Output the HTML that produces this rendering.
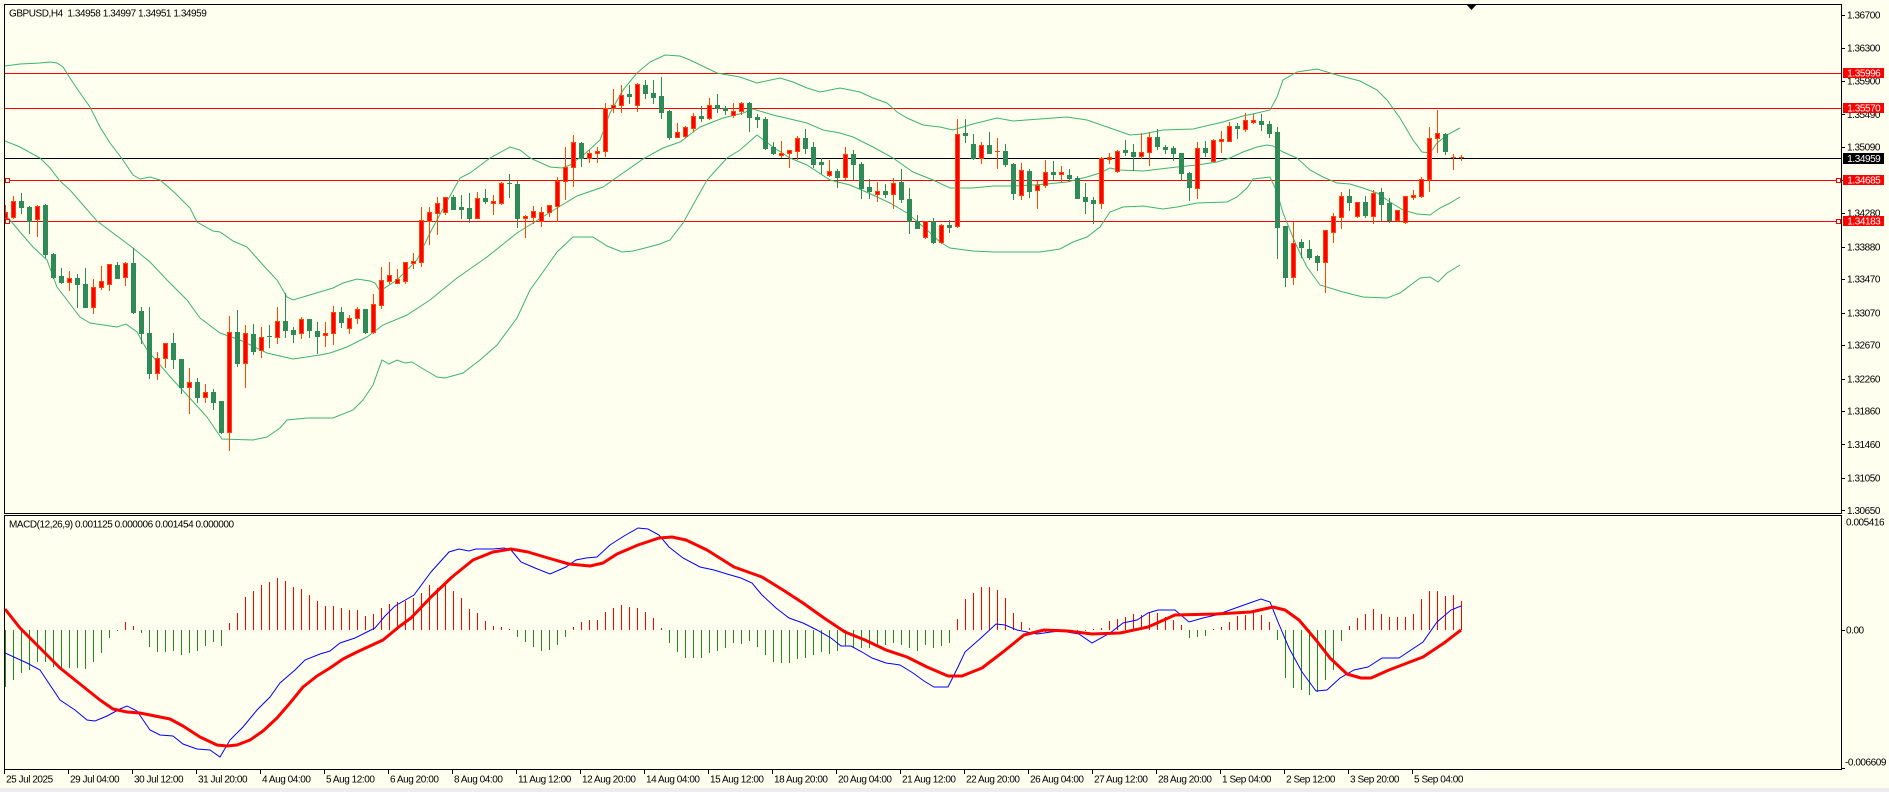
<!DOCTYPE html>
<html>
<head>
<meta charset="utf-8">
<style>
html,body{margin:0;padding:0;background:#fffff0;overflow:hidden;width:1889px;height:792px;}
svg{display:block;}
text{font-family:"Liberation Sans",Arial,sans-serif;font-size:10px;letter-spacing:-0.45px;fill:#000;white-space:pre;}
.w{fill:#fff;}
</style>
</head>
<body>
<svg width="1889" height="792" viewBox="0 0 1889 792">
<defs>
<clipPath id="cm"><rect x="5" y="5" width="1836" height="508"/></clipPath>
<clipPath id="cd"><rect x="5" y="516" width="1836" height="253"/></clipPath>
</defs>
<rect x="0" y="0" width="1889" height="792" fill="#fffff0"/>
<rect x="0" y="788" width="1889" height="4" fill="#ececec"/>

<g clip-path="url(#cm)">
<!-- horizontal levels -->
<line x1="5" y1="73.5" x2="1841" y2="73.5" stroke="#ff0000" stroke-width="1"/>
<line x1="5" y1="108.5" x2="1841" y2="108.5" stroke="#ff0000" stroke-width="1"/>
<line x1="5" y1="158.5" x2="1841" y2="158.5" stroke="#000" stroke-width="1"/>
<line x1="5" y1="180.5" x2="1841" y2="180.5" stroke="#ff0000" stroke-width="1"/>
<line x1="5" y1="221.5" x2="1841" y2="221.5" stroke="#ff0000" stroke-width="1"/>

<!-- Bollinger bands -->
<polyline fill="none" stroke="#3cb371" stroke-width="1" points="5,66 20,64 40,63 50,62 57,63 63,67 70,78 80,93 90,107 100,127 110,143 123,160 133,175 140,179 150,177 160,180 175,193 190,208 197,222 213,231 220,232 233,241 247,247 263,265 277,280 287,297 293,300 313,294 333,288 343,283 357,279 370,281 375,283 380,291 397,280 417,260 430,233 445,205 460,178 470,173 490,158 510,147 520,150 530,158 550,167 562,168 570,165 587,152 600,140 610,113 623,90 637,73 650,62 665,55 680,56 690,60 717,73 740,77 757,83 780,78 793,82 807,88 820,92 840,88 860,92 873,98 887,103 897,112 907,118 923,125 940,127 953,130 973,124 997,118 1013,121 1040,119 1067,117 1087,120 1110,128 1130,135 1143,134 1163,130 1193,129 1223,122 1243,116 1257,113 1270,110 1277,97 1283,80 1297,72 1317,69 1337,75 1360,81 1377,90 1387,100 1400,118 1413,140 1422,152 1430,153 1437,143 1447,135 1460,128"/>
<polyline fill="none" stroke="#3cb371" stroke-width="1" points="5,141 20,147 40,158 50,168 60,181 70,190 97,221 133,248 150,262 167,280 187,300 200,318 220,333 240,340 267,353 293,359 320,355 330,353 347,347 367,337 383,325 407,315 430,300 457,278 487,257 517,233 557,208 577,196 603,187 623,173 643,159 663,148 680,142 700,127 723,118 743,113 753,109 773,115 790,119 807,123 823,130 840,133 853,137 873,147 893,158 913,172 933,180 950,188 973,188 993,186 1013,186 1033,185 1047,184 1067,182 1087,177 1100,173 1110,168 1120,170 1143,171 1160,169 1177,167 1197,165 1217,162 1230,158 1243,152 1257,147 1267,145 1273,146 1283,152 1297,158 1310,170 1323,177 1337,183 1350,184 1363,188 1377,193 1390,202 1403,210 1417,214 1430,215 1440,208 1450,203 1460,197"/>
<polyline fill="none" stroke="#3cb371" stroke-width="1" points="5,214 20,232 33,247 47,260 57,287 67,300 80,317 90,323 117,327 126,324 137,332 147,350 173,380 187,395 207,417 222,439 253,440 267,437 280,428 287,420 307,418 333,418 353,410 363,400 373,385 382,360 389,364 397,360 405,363 412,362 420,367 437,377 445,378 463,373 480,360 497,345 517,318 530,290 543,272 557,252 573,237 593,237 607,246 622,252 633,251 645,248 660,244 670,240 683,223 707,180 727,158 740,150 757,135 773,147 790,158 807,165 830,180 850,185 873,195 890,203 907,213 927,230 940,242 950,248 973,251 993,252 1040,252 1060,249 1073,242 1087,237 1100,227 1110,212 1123,207 1143,206 1163,209 1177,207 1197,203 1227,202 1237,197 1247,188 1253,179 1270,177 1277,192 1283,213 1297,247 1307,267 1320,285 1343,292 1363,297 1387,298 1400,293 1420,278 1430,277 1438,282 1447,273 1460,265"/>

<!-- candles -->
<path id="wg" fill="none" stroke="#2e8b57" stroke-width="1" d=""/>
<path id="wr" fill="none" stroke="#ff4500" stroke-width="1" d=""/>
<path id="bg" fill="#2e8b57" stroke="#2e8b57" stroke-width="1" d=""/>
<path id="br" fill="#ff0000" stroke="#ff4500" stroke-width="1" d=""/>
<path id="dg" fill="none" stroke="#2e8b57" stroke-width="1" d=""/>
<path id="dr" fill="none" stroke="#ff4500" stroke-width="1" d=""/>

<!-- line end markers -->
<rect x="5.5" y="178.5" width="4" height="4" fill="#fffff0" stroke="#ff0000" stroke-width="1"/>
<rect x="5.5" y="219.5" width="4" height="4" fill="#fffff0" stroke="#ff0000" stroke-width="1"/>
<rect x="1836.5" y="178.5" width="4" height="4" fill="#fffff0" stroke="#ff0000" stroke-width="1"/>
<rect x="1836.5" y="219.5" width="4" height="4" fill="#fffff0" stroke="#ff0000" stroke-width="1"/>
</g>

<g clip-path="url(#cd)">
<path id="hr" fill="none" stroke="#ff0000" stroke-width="1" d=""/>
<path id="hg" fill="none" stroke="#1e8c1e" stroke-width="1" d=""/>
<polyline fill="none" stroke="#0000ff" stroke-width="1" points="5,653 27,663 40,670 60,700 75,710 87,720 95,721 107,716 120,709 127,706 137,711 150,730 160,735 173,736 183,744 197,749 210,750 220,757 230,740 243,727 257,710 270,697 280,683 295,670 305,660 320,654 330,651 340,643 355,638 365,633 375,628 385,616 395,606 414,595 431,572 449,552 459,549 469,551 476,549 493,549 504,548 511,550 521,562 535,568 550,574 566,567 576,560 586,558 597,557 610,545 624,536 638,528 648,529 659,535 669,547 683,558 700,567 714,570 727,574 741,578 752,583 762,595 776,608 789,618 803,623 817,630 831,638 841,646 851,646 862,652 872,658 886,663 900,665 913,673 924,681 934,687 948,687 958,667 965,652 982,637 996,624 1005,625 1017,630 1037,634 1051,632 1061,631 1079,634 1092,643 1110,633 1123,623 1137,620 1148,613 1158,610 1175,610 1189,622 1203,618 1216,615 1244,605 1261,599 1270,602 1278,622 1289,648 1302,672 1316,691 1327,690 1340,678 1354,670 1368,667 1382,658 1399,658 1423,642 1437,622 1451,610 1461,606"/>
<polyline fill="none" stroke="#ff0000" stroke-width="3" stroke-linejoin="round" points="5,609 20,628 40,648 60,668 80,684 100,700 113,709 127,712 140,713 160,717 170,719 183,726 200,737 217,745 227,746 237,745 250,740 263,731 277,718 290,703 303,687 317,676 330,668 343,659 357,652 370,646 383,640 400,626 411,618 431,597 452,577 473,560 493,552 511,549 528,552 548,558 569,564 590,566 603,563 617,554 638,545 659,538 672,537 686,540 707,550 734,567 762,577 783,590 803,603 824,618 845,632 865,640 886,650 907,657 927,667 948,676 962,676 982,668 1003,652 1024,635 1044,630 1068,631 1092,634 1120,633 1148,627 1175,615 1216,614 1251,612 1273,607 1285,610 1299,620 1316,640 1330,658 1347,674 1361,678 1371,678 1389,670 1423,657 1444,643 1461,630"/>
</g>

<!-- frames -->
<g fill="none" stroke="#000" stroke-width="1">
<path d="M4.5,4.5H1841.5V513.5H4.5Z"/>
<path d="M4.5,515.5H1841.5V769.5H4.5Z"/>
</g>
<polygon points="1466,4 1477,4 1471.5,10" fill="#000"/>

<!-- price axis ticks -->
<path fill="none" stroke="#000" stroke-width="1" d="M1842,15.5h3M1842,48.5h3M1842,81.5h3M1842,114.5h3M1842,147.5h3M1842,180.5h3M1842,213.5h3M1842,247.5h3M1842,279.5h3M1842,313.5h3M1842,345.5h3M1842,379.5h3M1842,411.5h3M1842,444.5h3M1842,478.5h3M1842,510.5h3M1842,630.5h3M1842,768.5h3"/>
<!-- time axis ticks -->
<path fill="none" stroke="#000" stroke-width="1" d="M4.5,770v4M68.5,770v4M132.5,770v4M196.5,770v4M260.5,770v4M324.5,770v4M388.5,770v4M452.5,770v4M516.5,770v4M580.5,770v4M644.5,770v4M708.5,770v4M772.5,770v4M836.5,770v4M900.5,770v4M964.5,770v4M1028.5,770v4M1092.5,770v4M1156.5,770v4M1220.5,770v4M1284.5,770v4M1348.5,770v4M1412.5,770v4"/>

<!-- titles -->
<text x="9" y="16.5">GBPUSD,H4  1.34958 1.34997 1.34951 1.34959</text>
<text x="9" y="527.5">MACD(12,26,9) 0.001125 0.000006 0.001454 0.000000</text>

<!-- price labels -->
<text x="1847" y="18.6">1.36700</text>
<text x="1847" y="51.6">1.36300</text>
<text x="1847" y="84.6">1.35900</text>
<text x="1847" y="118">1.35490</text>
<text x="1847" y="150.6">1.35090</text>
<text x="1847" y="183.6">1.34680</text>
<text x="1847" y="216.6">1.34280</text>
<text x="1847" y="250.3">1.33880</text>
<text x="1847" y="282.6">1.33470</text>
<text x="1847" y="316.3">1.33070</text>
<text x="1847" y="348.6">1.32670</text>
<text x="1847" y="382.3">1.32260</text>
<text x="1847" y="414.6">1.31860</text>
<text x="1847" y="448">1.31460</text>
<text x="1847" y="481.3">1.31050</text>
<text x="1847" y="514">1.30650</text>

<!-- level label boxes -->
<rect x="1843" y="68" width="41" height="10" fill="#ff0000"/>
<text class="w" x="1847.3" y="76.6">1.35996</text>
<rect x="1843" y="103" width="41" height="10" fill="#ff0000"/>
<text class="w" x="1847.3" y="111.6">1.35570</text>
<rect x="1843" y="153" width="41" height="11" fill="#000"/>
<text class="w" x="1847.3" y="162">1.34959</text>
<rect x="1843" y="175" width="41" height="10" fill="#ff0000"/>
<text class="w" x="1847.3" y="183.6">1.34685</text>
<rect x="1843" y="216" width="41" height="10" fill="#ff0000"/>
<text class="w" x="1847.3" y="224.6">1.34183</text>

<!-- MACD labels -->
<text x="1846" y="525.6">0.005416</text>
<text x="1846" y="633.6">0.00</text>
<text x="1845" y="765.6">-0.006609</text>

<!-- time labels -->
<text x="6" y="782.5">25 Jul 2025</text>
<text x="70" y="782.5">29 Jul 04:00</text>
<text x="134" y="782.5">30 Jul 12:00</text>
<text x="198" y="782.5">31 Jul 20:00</text>
<text x="262" y="782.5">4 Aug 04:00</text>
<text x="326" y="782.5">5 Aug 12:00</text>
<text x="390" y="782.5">6 Aug 20:00</text>
<text x="454" y="782.5">8 Aug 04:00</text>
<text x="518" y="782.5">11 Aug 12:00</text>
<text x="582" y="782.5">12 Aug 20:00</text>
<text x="646" y="782.5">14 Aug 04:00</text>
<text x="710" y="782.5">15 Aug 12:00</text>
<text x="774" y="782.5">18 Aug 20:00</text>
<text x="838" y="782.5">20 Aug 04:00</text>
<text x="902" y="782.5">21 Aug 12:00</text>
<text x="966" y="782.5">22 Aug 20:00</text>
<text x="1030" y="782.5">26 Aug 04:00</text>
<text x="1094" y="782.5">27 Aug 12:00</text>
<text x="1158" y="782.5">28 Aug 20:00</text>
<text x="1222" y="782.5">1 Sep 04:00</text>
<text x="1286" y="782.5">2 Sep 12:00</text>
<text x="1350" y="782.5">3 Sep 20:00</text>
<text x="1414" y="782.5">5 Sep 04:00</text>
</svg>
<script>
(function(){
var C=[[212,218,205,220,1],[201,217,196,218,1],[201,207,193,213,0],[207,221,206,233,0],[206,219,205,236,1],[205,254,204,257,0],[254,277,253,278,0],[276,282,268,283,0],[278,282,271,290,1],[278,284,274,307,0],
[284,307,268,307,0],[287,307,279,313,1],[281,287,266,289,1],[264,284,264,290,1],[265,278,262,278,0],[263,277,262,285,1],[263,312,248,313,0],[311,333,307,343,0],[333,373,307,378,0],[358,373,352,379,1],
[343,358,343,367,1],[343,359,333,368,0],[359,387,359,393,0],[382,387,368,413,1],[382,397,378,402,0],[392,397,384,402,1],[392,402,389,409,0],[401,432,401,433,0],[332,432,316,450,1],[332,363,310,366,0],
[333,363,325,387,1],[334,351,324,354,0],[337,350,327,357,1],[336,337,325,347,0],[321,337,307,343,1],[321,330,293,337,0],[330,334,327,342,0],[319,333,317,338,1],[319,330,319,337,0],[331,336,322,353,0],
[333,335,322,346,1],[312,333,306,344,1],[312,322,307,327,0],[318,328,315,333,1],[309,318,307,323,1],[309,332,309,333,0],[304,332,294,333,1],[280,305,267,308,1],[275,281,262,283,1],[279,283,269,283,1],
[262,281,262,283,1],[261,263,253,268,1],[220,262,207,266,1],[212,221,207,244,1],[203,213,197,234,1],[197,212,197,214,1],[197,209,195,209,0],[207,209,195,218,0],[208,218,193,222,0],[198,218,192,218,1],
[198,201,189,203,0],[201,203,195,214,1],[183,203,182,204,1],[183,184,174,197,0],[184,218,181,227,0],[216,218,215,237,1],[211,217,206,223,1],[212,221,207,226,1],[205,212,205,216,1],[181,206,177,221,1],
[167,181,147,199,1],[142,167,135,186,1],[143,158,142,166,0],[153,158,150,162,1],[151,153,147,162,1],[108,151,103,156,1],[105,108,89,112,1],[95,105,85,112,1],[94,96,85,103,0],[84,105,83,111,1],
[85,93,80,98,0],[93,97,80,103,0],[96,112,77,118,0],[111,137,110,139,0],[132,137,123,137,1],[127,136,126,137,1],[116,128,113,131,1],[116,118,106,121,0],[105,118,98,119,1],[105,108,94,112,0],
[108,110,106,114,0],[111,115,103,117,1],[103,111,102,114,1],[103,117,102,131,0],[117,119,114,127,0],[119,148,117,149,0],[147,153,142,154,0],[153,155,141,157,1],[150,153,150,167,1],[138,151,136,159,1],
[138,148,129,153,0],[147,164,142,167,0],[162,164,158,173,0],[171,175,160,176,1],[171,177,169,187,0],[154,177,147,179,1],[154,164,150,179,0],[164,188,162,198,0],[187,191,179,198,0],[191,194,182,201,1],
[191,194,184,197,0],[183,194,178,208,1],[182,199,169,202,0],[199,221,188,233,0],[221,228,215,228,0],[221,237,221,238,1],[221,242,218,243,0],[225,242,224,243,1],[225,227,220,232,0],[134,226,119,227,1],
[133,135,119,142,0],[144,158,134,159,0],[145,158,142,163,1],[145,153,132,153,0],[151,152,138,168,1],[151,164,144,166,0],[164,193,163,199,0],[170,195,163,199,1],[171,191,169,197,0],[185,190,181,208,1],
[172,185,160,187,1],[172,174,161,179,0],[172,174,166,181,1],[175,178,169,181,0],[178,198,176,198,0],[197,201,183,213,0],[200,203,197,223,0],[158,203,157,208,1],[157,159,153,163,1],[151,171,150,172,1],
[150,152,140,155,0],[152,156,144,170,0],[152,156,133,158,1],[137,152,132,165,1],[137,146,129,149,0],[147,149,145,153,0],[148,153,146,160,0],[153,173,153,180,0],[173,187,172,200,0],[148,188,142,198,1],
[148,152,141,156,0],[140,161,139,161,1],[139,141,131,152,1],[126,141,122,141,1],[126,128,123,138,0],[120,129,113,131,1],[120,122,114,123,1],[121,124,114,130,0],[124,133,121,137,0],[132,227,127,258,0],
[226,277,226,286,0],[243,277,222,284,1],[242,247,239,257,0],[249,257,240,259,0],[256,262,255,270,0],[230,262,230,292,1],[216,232,213,242,1],[196,217,192,228,1],[196,202,189,210,0],[202,216,202,217,1],
[202,215,196,217,0],[193,216,190,223,1],[192,204,188,220,0],[203,220,198,222,0],[210,220,210,221,1],[196,222,196,223,1],[195,197,190,199,1],[179,196,177,197,1],[138,179,127,191,1],[133,138,110,152,1],
[134,151,133,154,0],[157,158,154,169,1],[157,158,155,160,1]];
var H=[687,680,673,670,662,662,667,670,668,668,669,662,653,638,631,622,626,633,647,652,
652,651,655,653,651,646,642,646,623,613,597,591,585,582,578,581,587,589,595,601,
606,606,608,610,610,616,614,608,604,602,601,598,593,585,588,585,591,598,609,613,
621,626,627,629,637,642,647,651,650,645,637,627,622,620,620,612,608,605,607,608,
612,618,628,643,652,658,658,658,653,651,648,643,644,641,647,655,662,663,663,659,
658,655,652,654,651,646,648,648,648,645,645,643,645,648,651,645,648,646,643,619,
599,593,587,587,590,598,613,622,628,630,632,630,632,632,632,631,629,628,621,619,
617,614,615,612,613,617,620,625,638,637,636,629,627,622,616,615,613,615,622,640,
678,688,690,695,692,680,670,641,626,618,614,609,614,617,617,617,614,599,591,591,
596,595,601];
var wg='',wr='',bg='',br='',dg='',dr='',hr='',hg='';
for(var i=0;i<C.length;i++){
 var c=C[i],x=5.5+8*i,t=c[0],b=c[1],h=c[2],l=c[3],r=c[4];
 var w='M'+x+','+h+'V'+(l+1);
 if(r)wr+=w;else wg+=w;
 if(b-t>=2){
  var p='M'+(x-2)+','+(t+0.5)+'h4v'+(b-t)+'h-4z';
  if(r)br+=p;else bg+=p;
 }else{
  var d='M'+(x-2.5)+','+(t+0.5)+'h5';
  if(r)dr+=d;else dg+=d;
 }
}
for(var j=0;j<H.length;j++){
 var xx=5.5+8*j,v=H[j];
 if(v<630){hr+='M'+xx+',630V'+v;}
 else if(v>630){hg+='M'+xx+',630V'+v;}
}
function s(id,d){var e=document.getElementById(id);if(e&&d)e.setAttribute('d',d);}
s('wg',wg);s('wr',wr);s('bg',bg);s('br',br);s('dg',dg);s('dr',dr);s('hr',hr);s('hg',hg);
})();
</script>
</body>
</html>
